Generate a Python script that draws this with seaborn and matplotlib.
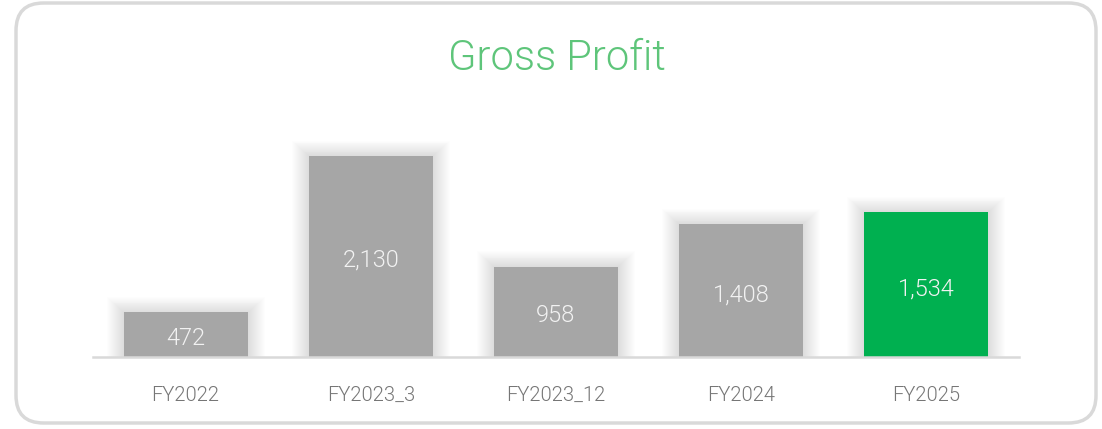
import matplotlib
matplotlib.use("Agg")
import matplotlib.pyplot as plt
from matplotlib.patches import FancyBboxPatch
import seaborn as sns
import pandas as pd

categories = ["FY2022", "FY2023_3", "FY2023_12", "FY2024", "FY2025"]
values = [472, 2130, 958, 1408, 1534]
bar_colors = ["#a6a6a6", "#a6a6a6", "#a6a6a6", "#a6a6a6", "#00b050"]
title = "Gross Profit"

sns.set_theme(style="white")
plt.rcParams["font.family"] = ["Roboto", "DejaVu Sans"]

W, H = 1102, 429
fig = plt.figure(figsize=(W / 100, H / 100), dpi=100)

# rounded frame
frame = FancyBboxPatch((16 / W, 6 / H), (1096 - 16) / W, (426 - 6) / H,
                       boxstyle="round,pad=0,rounding_size=0.025",
                       transform=fig.transFigure, facecolor="none",
                       edgecolor="#d9d9d9", linewidth=2.5, mutation_aspect=W / H,
                       zorder=0)
fig.patches.append(frame)

ax = fig.add_axes([93 / W, (H - 357) / H, 926 / W, 227 / H])
ax.set_facecolor("none")
ax.set_zorder(2)
ymax = 2130 * 227 / 201
px_y = ymax / 227
px_x = 1 / 185.2

df = pd.DataFrame({"cat": categories, "val": values})
xs = list(range(len(categories)))

# soft shadow layers
for k in range(1, 18):
    ax.bar(xs, [v + k * 0.9 * px_y for v in values], width=0.67 + 2 * k * 1.0 * px_x,
           color="black", alpha=0.008, linewidth=0, zorder=1)

sns.barplot(data=df, x="cat", y="val", hue="cat", palette=bar_colors,
            width=0.67, legend=False, ax=ax, saturation=1, zorder=3,
            linewidth=0, edgecolor="none")

for x, v in zip(xs, values):
    ax.text(x, v / 2 - 4 * px_y, f"{v:,}", ha="center", va="center", color="#f2f2f2",
            fontsize=17, fontweight=300, zorder=4)

ax.set_xlim(-0.5, 4.5)
ax.set_ylim(0, ymax)
ax.set_xlabel("")
ax.set_ylabel("")
ax.set_yticks([])
for s in ["top", "right", "left"]:
    ax.spines[s].set_visible(False)
ax.spines["bottom"].set_color("#d9d9d9")
ax.spines["bottom"].set_linewidth(1.8)
ax.spines["bottom"].set_zorder(5)
ax.tick_params(axis="x", length=0, pad=21, labelsize=14.5, labelcolor="#767676")
for lab in ax.get_xticklabels():
    lab.set_fontweight(300)

fig.text(557 / W, 1 - 58 / H, title, ha="center", va="center",
         color="#5ec57a", fontsize=30, fontweight=300)

fig.savefig("out.png", dpi=100)
